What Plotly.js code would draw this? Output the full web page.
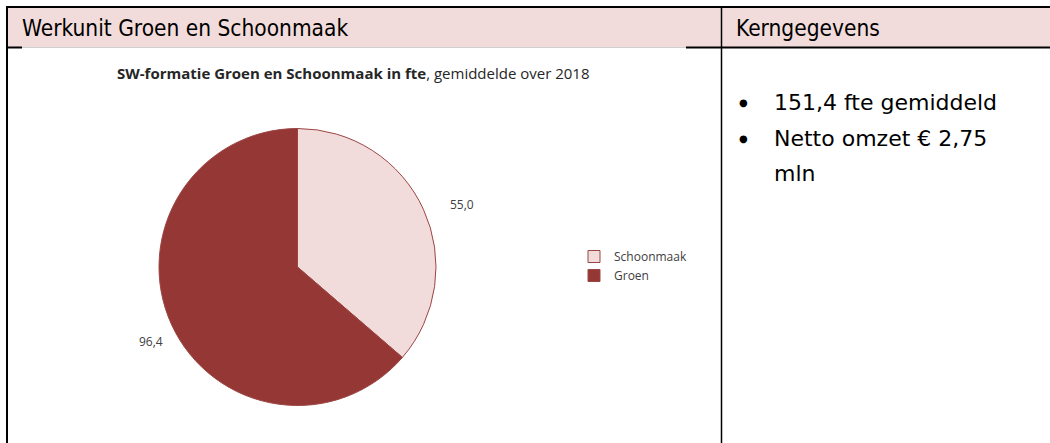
<!DOCTYPE html>
<html>
<head>
<meta charset="utf-8">
<script src="https://cdn.plot.ly/plotly-3.0.1.min.js"></script>
<style>
  html, body { margin: 0; padding: 0; background: #ffffff; }
  #chart { width: 1050px; height: 443px; }
</style>
</head>
<body>
<div id="chart"></div>
<script>
// ---- data ----
const categories = ["Schoonmaak", "Groen"];
const fteValues = [55.0, 96.4];
const sliceColors = ["#F2DCDB", "#953735"];
const chartTitleBold = "SW-formatie Groen en Schoonmaak in fte";
const chartTitleRest = ", gemiddelde over 2018";
const headerLeft = "Werkunit Groen en Schoonmaak";
const headerRight = "Kerngegevens";
const keyFacts = ["151,4 fte gemiddeld", "Netto omzet € 2,75", "mln"];

// ---- geometry helpers (pixel -> paper) ----
const W = 1050, H = 443;
const X = px => px / W;
const Y = py => 1 - py / H;

// pie placement
const pieCx = 297.5, pieCy = 267, pieR = 138.5;
const domain = {
  x: [X(pieCx - pieR), X(pieCx + pieR)],
  y: [Y(pieCy + pieR), Y(pieCy - pieR)]
};

const fmt = v => v.toFixed(1).replace('.', ',');

// value labels placed at slice mid-angles
const total = fteValues.reduce((a, b) => a + b, 0);
let cum = 0;
const labelFactor = [1.275, 1.19];
const labelAngleShift = [0.065, -0.042];
const labelAnns = fteValues.map((v, i) => {
  const mid = (cum + v / 2) / total * 2 * Math.PI + labelAngleShift[i];
  cum += v;
  const f = labelFactor[i];
  const px = pieCx + pieR * f * Math.sin(mid);
  const py = pieCy - pieR * f * Math.cos(mid);
  return {
    xref: 'paper', yref: 'paper', x: X(px), y: Y(py),
    xanchor: 'center', yanchor: 'middle', showarrow: false,
    text: fmt(v),
    font: { family: 'Open Sans, Liberation Sans, sans-serif', size: 12, color: '#404040' }
  };
});

const trace = {
  type: 'pie',
  labels: categories,
  values: fteValues,
  sort: false,
  direction: 'clockwise',
  rotation: 0,
  textinfo: 'none',
  hoverinfo: 'label+value',
  marker: { colors: sliceColors, line: { color: '#9b4644', width: 1 } },
  domain: domain
};

const black = '#000000';
const shapes = [
  { type: 'rect', xref: 'paper', yref: 'paper', x0: X(7), x1: X(1050), y0: Y(47), y1: Y(7),
    fillcolor: '#F2DCDB', line: { width: 0 }, layer: 'below' },
  { type: 'line', xref: 'paper', yref: 'paper', x0: X(6), x1: X(1050), y0: Y(7), y1: Y(7),
    line: { color: black, width: 2 } },
  { type: 'line', xref: 'paper', yref: 'paper', x0: X(6), x1: X(22), y0: Y(47.5), y1: Y(47.5),
    line: { color: black, width: 2 } },
  { type: 'line', xref: 'paper', yref: 'paper', x0: X(22), x1: X(686), y0: Y(47.5), y1: Y(47.5),
    line: { color: '#d0d0d0', width: 1 } },
  { type: 'line', xref: 'paper', yref: 'paper', x0: X(686), x1: X(1050), y0: Y(47.5), y1: Y(47.5),
    line: { color: black, width: 2 } },
  { type: 'line', xref: 'paper', yref: 'paper', x0: X(7), x1: X(7), y0: Y(6), y1: Y(443),
    line: { color: black, width: 2 } },
  { type: 'line', xref: 'paper', yref: 'paper', x0: X(721.5), x1: X(721.5), y0: Y(7), y1: Y(443),
    line: { color: black, width: 1.5 } }
];

const headerFont = { family: 'DejaVu Sans Condensed, Liberation Sans Narrow, sans-serif', size: 22.5, color: '#000000' };
const bodyFont = { family: 'DejaVu Sans, Verdana, sans-serif', size: 22, color: '#000000' };

const annotations = [
  { xref: 'paper', yref: 'paper', x: X(20), y: Y(28), xanchor: 'left', yanchor: 'middle',
    showarrow: false, text: headerLeft, font: headerFont },
  { xref: 'paper', yref: 'paper', x: X(734), y: Y(28), xanchor: 'left', yanchor: 'middle',
    showarrow: false, text: headerRight, font: headerFont },
  { xref: 'paper', yref: 'paper', x: X(353.5), y: Y(73), xanchor: 'center', yanchor: 'middle',
    showarrow: false, text: '<b>' + chartTitleBold + '</b>' + chartTitleRest,
    font: { family: 'Open Sans, Liberation Sans, sans-serif', size: 15, color: '#262626' } }
];
const factLines = [[keyFacts[0], true], [keyFacts[1], true], [keyFacts[2], false]];
factLines.forEach((fl, i) => {
  const cy = 102 + i * 36;
  if (fl[1]) {
    annotations.push({ xref: 'paper', yref: 'paper', x: X(743), y: Y(cy), xanchor: 'center', yanchor: 'middle',
      showarrow: false, text: '●', font: { family: 'DejaVu Sans, sans-serif', size: 10, color: '#000' } });
  }
  annotations.push({ xref: 'paper', yref: 'paper', x: X(772), y: Y(cy), xanchor: 'left', yanchor: 'middle',
    showarrow: false, text: fl[0], font: bodyFont });
});

const layout = {
  width: W, height: H,
  margin: { l: 0, r: 0, t: 0, b: 0, pad: 0 },
  paper_bgcolor: '#ffffff',
  plot_bgcolor: '#ffffff',
  showlegend: true,
  legend: {
    x: X(574), y: Y(242), xanchor: 'left', yanchor: 'top',
    font: { family: 'Open Sans, Liberation Sans, sans-serif', size: 12, color: '#404040' },
    bgcolor: 'rgba(0,0,0,0)', tracegroupgap: 0, itemwidth: 30
  },
  shapes: shapes,
  annotations: annotations.concat(labelAnns)
};

Plotly.newPlot('chart', [trace], layout, { displayModeBar: false, staticPlot: true });
</script>
</body>
</html>
